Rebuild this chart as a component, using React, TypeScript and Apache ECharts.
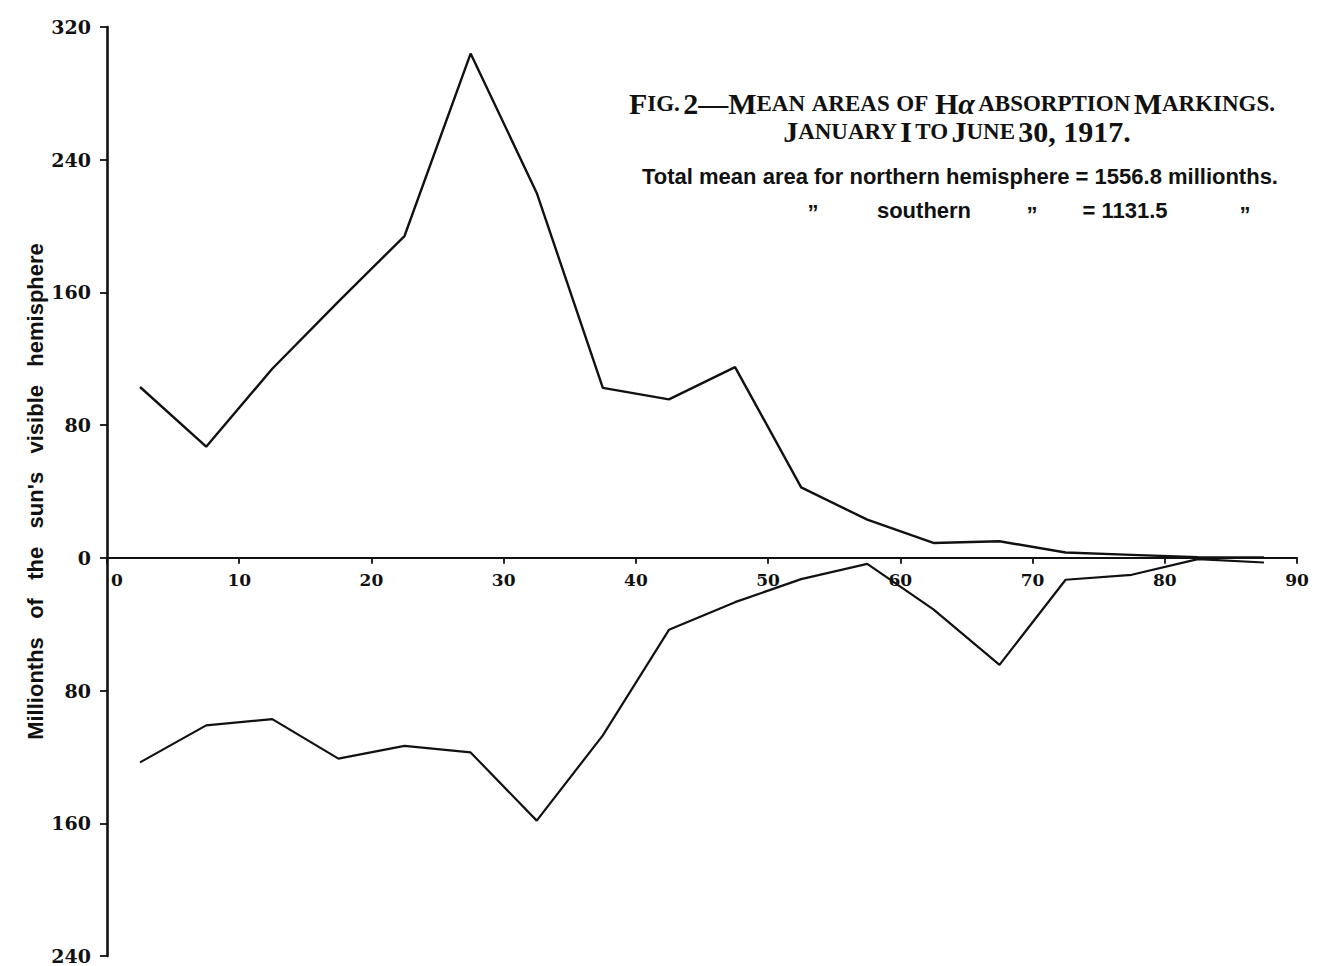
import React, { useEffect, useRef } from "react";
import * as echarts from "echarts";

// Heliographic latitude (zone centres, degrees)
const latitudes = [2.5, 7.5, 12.5, 17.5, 22.5, 27.5, 32.5, 37.5, 42.5, 47.5, 52.5, 57.5, 62.5, 67.5, 72.5, 77.5, 82.5, 87.5];
// Mean areas, northern hemisphere (millionths)
const northAreas = [103, 67, 114, 154.5, 194, 304, 220, 102.5, 95.5, 115, 42.5, 23, 9, 10, 3.2, 1.8, 0.4, 0.2];
// Mean areas, southern hemisphere (millionths) – plotted downward
const southAreas = [123.3, 101, 97.2, 121, 113.3, 117.3, 158.4, 107, 43.4, 26.7, 12.8, 3.6, 31, 64.5, 13.2, 10.2, 0.8, 2.8];

const xTicks = { min: 0, max: 90, interval: 10 };
const yTicks = { min: -240, max: 320, interval: 80 };

const yName = "Millionths   of   the   sun's   visible   hemisphere";

const INK = "#111";
const SERIF = "'DejaVu Serif', 'Liberation Serif', serif";
const TSERIF = "'Liberation Serif', 'DejaVu Serif', serif";
const SANS = "'Liberation Sans', 'DejaVu Sans', sans-serif";

const GRID_TOP = 27;
const GRID_BOTTOM = 10;
const CHART_H = 966;

export default function App() {
  const ref = useRef<HTMLDivElement>(null);
  useEffect(() => {
    if (!ref.current) return;
    const chart = echarts.init(ref.current, null, { renderer: "svg" });
    const plotH = CHART_H - GRID_TOP - GRID_BOTTOM;
    // move the x axis up from the grid bottom to the zero line
    const zeroOffset = -(plotH * (0 - yTicks.min)) / (yTicks.max - yTicks.min);
    const big = { fontFamily: TSERIF, fontSize: 30, fontWeight: "bold", color: INK };
    const small = { fontFamily: TSERIF, fontSize: 23, fontWeight: "bold", color: INK };
    const body = { fontFamily: SANS, fontWeight: "bold", fontSize: 22, fill: INK, align: "center", verticalAlign: "middle" };
    chart.setOption({
      animation: false,
      backgroundColor: "#fff",
      grid: { left: 107, right: 21, top: GRID_TOP, bottom: GRID_BOTTOM, containLabel: false, outerBoundsMode: "none" },
      xAxis: {
        type: "value",
        position: "bottom",
        offset: zeroOffset,
        min: xTicks.min,
        max: xTicks.max,
        interval: xTicks.interval,
        splitLine: { show: false },
        axisLine: { onZero: false, lineStyle: { color: INK, width: 2.2 } },
        axisTick: { show: true, length: 6, lineStyle: { color: INK, width: 1.8 } },
        axisLabel: {
          margin: 14,
          color: INK,
          fontFamily: SERIF,
          fontWeight: "bold",
          fontSize: 17,
          formatter: (v: number) => (v === 0 ? "{z|0}" : String(v)),
          rich: {
            z: { padding: [0, 0, 0, 20], fontFamily: SERIF, fontWeight: "bold", fontSize: 17, color: INK },
          },
        },
      },
      yAxis: {
        type: "value",
        min: yTicks.min,
        max: yTicks.max,
        interval: yTicks.interval,
        splitLine: { show: false },
        axisLine: { show: true, onZero: false, lineStyle: { color: INK, width: 2.6 } },
        axisTick: { show: true, length: 7, lineStyle: { color: INK, width: 1.8 } },
        axisLabel: {
          margin: 16,
          color: INK,
          fontFamily: SERIF,
          fontWeight: "bold",
          fontSize: 19,
          formatter: (v: number) => String(Math.abs(v)),
        },
        name: yName,
        nameLocation: "middle",
        nameRotate: 90,
        nameGap: 61,
        nameMoveOverlap: false,
        nameTextStyle: { color: INK, fontFamily: SANS, fontWeight: "bold", fontSize: 22 },
      },
      series: [
        {
          name: "Northern hemisphere",
          type: "line",
          data: latitudes.map((x, i) => [x, northAreas[i]]),
          showSymbol: false,
          lineStyle: { color: INK, width: 2.4 },
        },
        {
          name: "Southern hemisphere",
          type: "line",
          data: latitudes.map((x, i) => [x, -southAreas[i]]),
          showSymbol: false,
          lineStyle: { color: INK, width: 2.2 },
        },
      ],
      graphic: [
        {
          type: "text",
          x: 952,
          y: 103,
          style: {
            text: "{b|F}{s|IG.} {b|2}{b|—}{b|M}{s|EAN}  {s|AREAS}  {s|OF}  {b|H}{i|α} {s|ABSORPTION} {b|M}{s|ARKINGS.}",
            rich: { b: big, s: small, i: { ...big, fontStyle: "italic" } },
            align: "center",
            verticalAlign: "middle",
            fill: INK,
          },
        },
        {
          type: "text",
          x: 957,
          y: 131,
          style: {
            text: "{b|J}{s|ANUARY} {b|I} {s|TO} {b|J}{s|UNE} {b|30, 1917.}",
            rich: { b: big, s: small },
            align: "center",
            verticalAlign: "middle",
            fill: INK,
          },
        },
        { type: "text", x: 960, y: 176, style: { ...body, text: "Total mean area for northern hemisphere = 1556.8 millionths." } },
        { type: "text", x: 813, y: 212, style: { ...body, text: "”" } },
        { type: "text", x: 924, y: 210, style: { ...body, text: "southern" } },
        { type: "text", x: 1032, y: 214, style: { ...body, text: "”" } },
        { type: "text", x: 1125, y: 210, style: { ...body, text: "= 1131.5" } },
        { type: "text", x: 1245, y: 214, style: { ...body, text: "”" } },
      ],
    });
    return () => chart.dispose();
  }, []);
  return (
    <div
      ref={ref}
      style={{ position: "fixed", left: 0, top: 0, width: 1318, height: 966, background: "#fff" }}
    />
  );
}
